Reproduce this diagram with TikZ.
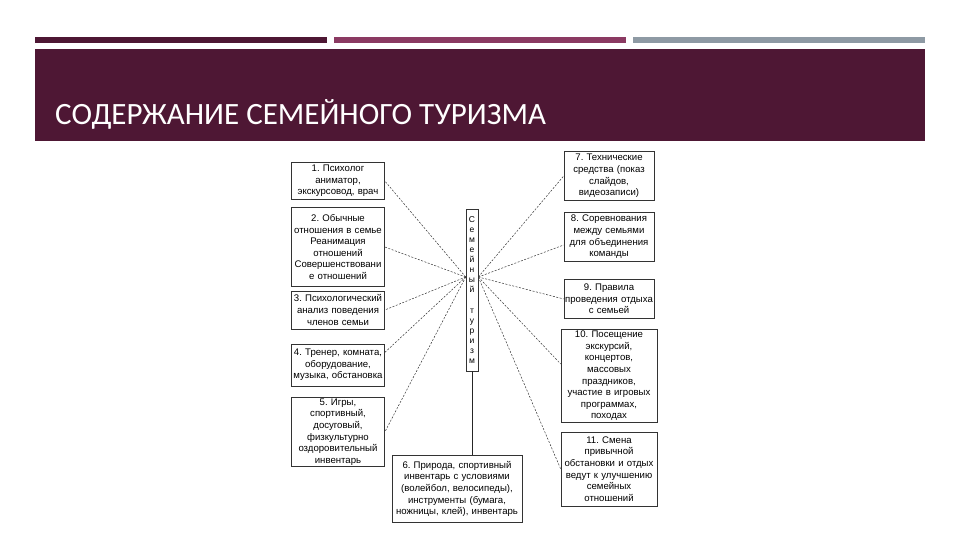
\documentclass[tikz,border=0pt]{standalone}
\usepackage{fontspec}
\setmainfont{Liberation Sans}
\newfontfamily\titlefont{Carlito}
\usepackage{xcolor}
\definecolor{slidewine}{HTML}{4E1734}
\definecolor{slidepink}{HTML}{8B3A62}
\definecolor{slidegrey}{HTML}{8E9AA4}
\usetikzlibrary{positioning,calc}
\frenchspacing

\begin{document}
\begin{tikzpicture}[x=1pt,y=-1pt,
  item/.style={draw=black!80,line width=0.6pt,fill=white,inner sep=1pt,
               align=center,font=\fontsize{9.6}{11.6}\selectfont},
  hub/.style={draw=black!80,line width=0.6pt,inner sep=0pt,align=center,
              minimum width=12pt,minimum height=162pt,
              font=\fontsize{8.5}{10.1}\selectfont},
  link/.style={draw=black!80,line width=0.5pt,dash pattern=on 2pt off 1.5pt},
  stem/.style={draw=black!85,line width=0.7pt}
]
\useasboundingbox (0,0) rectangle (960,540);

% Шапка слайда
\fill[slidewine] (35,37) rectangle (327,43);
\fill[slidepink] (334,37) rectangle (626,43);
\fill[slidegrey] (633,37) rectangle (925,43);
\fill[slidewine] (35,49) rectangle (925,141);
\node[anchor=base west,inner sep=0pt,text=white,
      font=\titlefont\fontsize{31}{34}\selectfont] (title) at (55,125)
  {СОДЕРЖАНИЕ СЕМЕЙНОГО ТУРИЗМА};

% Центр
\node[hub] (sem) at (472,290)
  {С\\е\\м\\е\\й\\н\\ы\\й\\\mbox{}\\т\\у\\р\\и\\з\\м};
\coordinate (hubL) at ($(sem.north west)!0.42!(sem.south west)$);
\coordinate (hubR) at ($(sem.north east)!0.42!(sem.south east)$);

% Левая колонка
\node[item,text width=91pt,minimum height=37pt] (b1) at (338,181)
  {1. Психолог\\аниматор,\\экскурсовод, врач};
\node[item,text width=91pt,minimum height=79pt] (b2) at (338,247)
  {2. Обычные\\отношения в семье\\Реанимация\\отношений\\Совершенствовани\\е отношений};
\node[item,text width=91pt,minimum height=38pt] (b3) at (338,310)
  {3. Психологический\\анализ поведения\\членов семьи};
\node[item,text width=91pt,minimum height=42pt] (b4) at (338,365)
  {4. Тренер, комната,\\оборудование,\\музыка, обстановка};
\node[item,text width=91pt,minimum height=67pt] (b5) at (338,432)
  {5. Игры,\\спортивный,\\досуговый,\\физкультурно\\оздоровительный\\инвентарь};

% Низ
\node[item,text width=128pt,minimum height=67pt] (b6) at (457,489)
  {6. Природа, спортивный\\инвентарь с условиями\\(волейбол, велосипеды),\\инструменты (бумага,\\ножницы, клей), инвентарь};

% Правая колонка
\node[item,text width=88pt,minimum height=49pt] (b7) at (609,176)
  {7. Технические\\средства (показ\\слайдов,\\видеозаписи)};
\node[item,text width=88pt,minimum height=49pt] (b8) at (609,237)
  {8. Соревнования\\между семьями\\для объединения\\команды};
\node[item,text width=88pt,minimum height=39pt] (b9) at (609,299)
  {9. Правила\\проведения отдыха\\с семьей};
\node[item,text width=94pt,minimum height=93pt] (b10) at (609,376)
  {10. Посещение\\экскурсий,\\концертов,\\массовых\\праздников,\\участие в игровых\\программах,\\походах};
\node[item,text width=94pt,minimum height=74pt] (b11) at (609,469)
  {11. Смена\\привычной\\обстановки и отдых\\ведут к улучшению\\семейных\\отношений};

% Связи
\draw[stem] (sem.south) -- (sem.south |- b6.north);
\foreach \n/\a in {b1/east,b2/east,b3/east,b4/15,b5/east}
  \draw[link] (hubL) -- (\n.\a);
\foreach \n/\a in {b7/west,b8/190,b9/west,b10/166,b11/west}
  \draw[link] (hubR) -- (\n.\a);

\end{tikzpicture}
\end{document}
